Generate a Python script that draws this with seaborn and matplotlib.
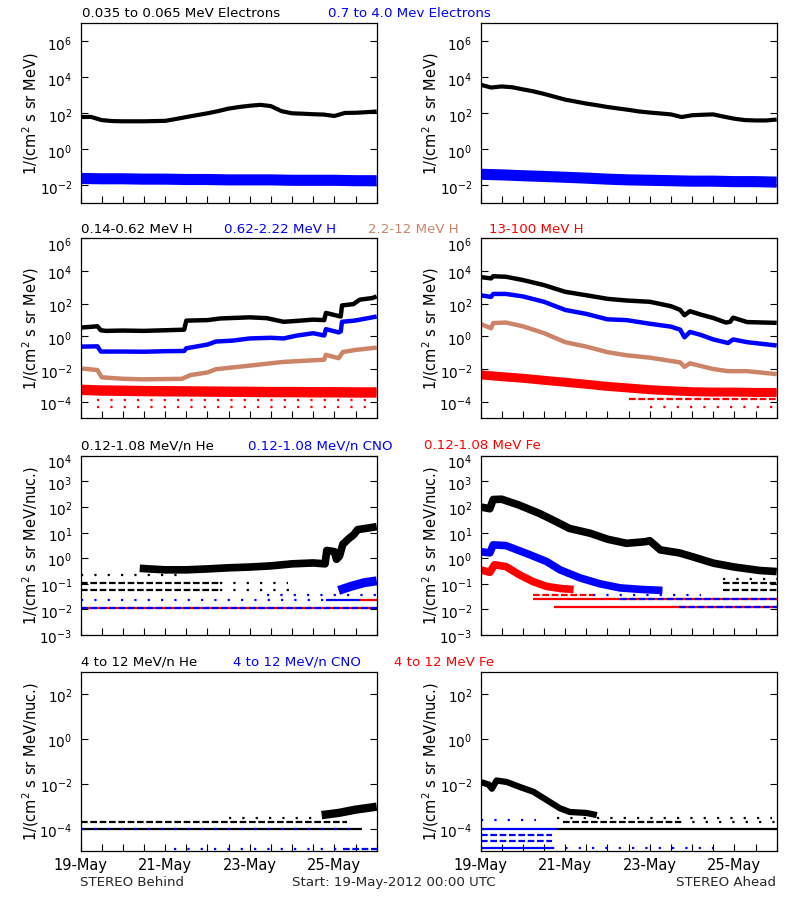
import numpy as np
import pandas as pd
import matplotlib
matplotlib.use("Agg")
import matplotlib.pyplot as plt
import matplotlib.transforms as mtransforms
import seaborn as sns
from matplotlib.ticker import NullLocator

# ---------------- data (time in days since 19-May-2012 00:00 UTC) ----------------
DAY_TICK_POS = [0, 2, 4, 6]
DAY_LABELS = ["19-May", "21-May", "23-May", "25-May"]
T6H = np.arange(0, 7.001, 0.25)
T12H = np.arange(0, 7.001, 0.5)

# Row 1: electrons
ELO_B = [62, 63, 42, 37, 36, 36, 36, 37, 38, 48, 62, 79, 100, 132, 182, 224, 263, 295,
         251, 132, 100, 95, 89, 85, 71, 105, 107, 115, 126]
EHI_B = [0.024, 0.023, 0.023, 0.022, 0.022, 0.021, 0.021, 0.020, 0.020, 0.020, 0.019,
         0.019, 0.019, 0.018, 0.018]
ELO_A = [3890, 2700, 3100, 2800, 2140, 1660, 1200, 830, 575, 447, 347, 282, 224, 186, 155,
         126, 110, 98, 87, 62, 78, 83, 87, 65, 50, 42, 40, 40, 45]
EHI_A = [0.041, 0.038, 0.034, 0.031, 0.028, 0.025, 0.022, 0.020, 0.019, 0.018, 0.017,
         0.017, 0.016, 0.016, 0.015]

# Row 2: protons, STEREO Behind
H1_B_T = [0, 0.3, 0.4, 0.48, 0.6, 1.0, 1.5, 2.0, 2.45, 2.5, 3.0, 3.3, 4.0, 4.4, 4.8, 5.2,
          5.5, 5.76, 5.8, 6.1, 6.15, 6.18, 6.45, 6.6, 6.9, 7.0]
H1_B = [3.5, 4.0, 4.2, 2.4, 2.2, 2.3, 2.2, 2.4, 2.6, 9.3, 10, 12.6, 14.8, 13.2, 7.9, 9.3,
        10.7, 10, 27.5, 17.8, 16.6, 79, 95, 178, 224, 282]
H2_B_T = [0, 0.4, 0.48, 1.0, 1.5, 2.0, 2.45, 2.5, 3.0, 3.2, 3.6, 4.0, 4.5, 4.8, 5.1, 5.5,
          5.76, 5.8, 6.1, 6.15, 6.18, 6.5, 7.0]
H2_B = [0.24, 0.25, 0.12, 0.12, 0.117, 0.126, 0.13, 0.19, 0.32, 0.49, 0.56, 0.76, 0.83,
        0.76, 1.12, 1.58, 1.15, 2.8, 1.78, 2.0, 7.9, 9.5, 16.6]
H3_B_T = [0, 0.4, 0.5, 1.0, 1.5, 2.0, 2.4, 2.6, 3.0, 3.2, 4.0, 4.8, 5.5, 5.76, 5.8, 6.1,
          6.2, 6.5, 7.0]
H3_B = [0.0112, 0.0089, 0.0032, 0.0026, 0.0024, 0.0025, 0.0026, 0.0044, 0.0063, 0.010,
        0.0166, 0.028, 0.035, 0.038, 0.076, 0.047, 0.112, 0.151, 0.209]
H4_B = [5.5e-4, 5e-4, 4.8e-4, 4.6e-4, 4.5e-4, 4.4e-4, 4.3e-4, 4.2e-4, 4.1e-4, 4e-4,
        4e-4, 3.9e-4, 3.9e-4, 3.8e-4, 3.8e-4]

# Row 2: protons, STEREO Ahead
H1_A_T = [0, 0.25, 0.3, 0.6, 1.0, 1.5, 2.0, 2.5, 3.0, 3.45, 4.0, 4.5, 4.72, 4.82, 4.95,
          5.2, 5.5, 5.8, 5.9, 5.97, 6.3, 7.0]
H1_A = [4270, 3550, 4790, 4470, 2820, 1380, 537, 331, 200, 158, 132, 71, 42, 20, 35, 22,
        13.5, 7.1, 7.9, 14.1, 7.6, 6.8]
H2_A_T = [0, 0.25, 0.3, 0.6, 1.0, 1.5, 2.0, 2.5, 3.0, 3.45, 4.0, 4.5, 4.72, 4.82, 4.95,
          5.2, 5.5, 5.85, 5.97, 6.3, 7.0]
H2_A = [331, 263, 398, 398, 282, 132, 42, 24, 11.2, 10, 6.0, 4.0, 2.6, 0.89, 1.9, 1.26,
        0.66, 0.40, 0.66, 0.45, 0.28]
H3_A_T = [0, 0.25, 0.3, 0.6, 1.0, 1.5, 2.0, 2.5, 3.0, 3.45, 4.0, 4.5, 4.72, 4.82, 4.95,
          5.5, 5.85, 6.3, 7.0]
H3_A = [5.8, 3.2, 6.6, 7.1, 4.2, 1.6, 0.45, 0.24, 0.11, 0.071, 0.051, 0.032, 0.026,
        0.014, 0.023, 0.0102, 0.0076, 0.0076, 0.005]
H4_A = [4.5e-3, 3.5e-3, 2.8e-3, 2.1e-3, 1.6e-3, 1.2e-3, 8.9e-4, 7.1e-4, 5.6e-4, 4.8e-4,
        4.2e-4, 4e-4, 4e-4, 3.8e-4, 3.8e-4]

# Row 3: 0.12-1.08 MeV/n ions
HE_B_T = [1.4, 2.0, 2.5, 3.0, 3.5, 4.0, 4.5, 5.0, 5.5, 5.78, 5.82, 6.0, 6.05, 6.12, 6.2,
          6.35, 6.45, 6.55, 6.8, 7.0]
HE_B = [0.4, 0.35, 0.35, 0.38, 0.42, 0.45, 0.5, 0.6, 0.65, 0.6, 2.0, 1.8, 0.9, 1.2, 3.5,
        6, 8, 13, 15, 17]
CNO_B_T = [6.1, 6.4, 6.7, 7.0]
CNO_B = [0.055, 0.08, 0.11, 0.13]
HE_A_T = [0, 0.22, 0.3, 0.5, 0.9, 1.4, 1.8, 2.1, 2.6, 3.0, 3.45, 3.9, 4.0, 4.25, 4.7,
          5.0, 5.5, 6.0, 6.6, 7.0]
HE_A = [100, 85, 195, 200, 120, 55, 26, 14.5, 9.3, 5.5, 3.8, 4.4, 4.8, 2.1, 1.6, 1.15,
        0.64, 0.45, 0.33, 0.3]
CNO_A_T = [0, 0.22, 0.3, 0.6, 1.17, 1.56, 1.88, 2.35, 2.82, 3.3, 3.8, 4.3]
CNO_A = [1.8, 1.6, 3.3, 3.1, 1.35, 0.74, 0.35, 0.17, 0.10, 0.069, 0.06, 0.055]
FE_A_T = [0, 0.22, 0.33, 0.6, 0.93, 1.25, 1.56, 1.9, 2.2]
FE_A = [0.35, 0.28, 0.55, 0.47, 0.22, 0.12, 0.079, 0.065, 0.06]

# Row 4: 4-12 MeV/n ions
HE4_B_T = [5.7, 6.1, 6.5, 7.0]
HE4_B = [4e-4, 5e-4, 7e-4, 9.5e-4]
HE4_A_T = [0, 0.19, 0.27, 0.38, 0.62, 0.93, 1.25, 1.56, 1.88, 2.11, 2.5, 2.75]
HE4_A = [0.012, 0.0093, 0.006, 0.014, 0.012, 0.0072, 0.0044, 0.0019, 8e-4, 5.5e-4,
         5e-4, 4e-4]

# single-count levels: (flux, start day, end day, colour key, pattern key)
LEV_R2_B = [(1.4e-4, 0.4, 7, "r", "sparse"), (5e-5, 0.4, 7, "r", "sparse")]
LEV_R2_A = [(1.5e-4, 3.5, 7, "r", "dash"), (5e-5, 4.0, 7, "r", "sparse")]
LEV_R3_B = [(0.011, 0, 7, "r", "solid"), (0.011, 0, 7, "b", "dash"),
            (0.024, 0, 5.8, "b", "sparse"), (0.024, 5.8, 6.6, "b", "solid"),
            (0.024, 6.6, 7, "r", "solid"), (0.038, 4.4, 7, "b", "sparse"),
            (0.056, 0, 3.3, "k", "dash"), (0.056, 3.3, 5.0, "k", "sparse"),
            (0.11, 0, 3.3, "k", "dash"), (0.11, 3.3, 4.9, "k", "sparse"),
            (0.22, 0, 2.3, "k", "sparse")]
LEV_R3_A = [(0.012, 1.73, 7, "r", "solid"), (0.012, 4.7, 7, "b", "dash"),
            (0.026, 1.25, 7, "r", "solid"), (0.026, 3.3, 7, "b", "dash"),
            (0.038, 1.25, 2.65, "r", "dash"), (0.038, 2.65, 5.2, "b", "sparse"),
            (0.056, 5.74, 7, "k", "dash"), (0.107, 5.74, 7, "k", "dash"),
            (0.16, 5.74, 7, "k", "sparse")]
LEV_R4_B = [(1e-4, 0, 6.66, "k", "solid"), (1e-4, 0, 6.66, "b", "sparse"),
            (1.9e-4, 0, 6.3, "k", "dash"), (3e-4, 3.5, 6.0, "k", "sparse"),
            (1.2e-5, 2.2, 6.2, "b", "sparse"), (1.2e-5, 6.2, 7, "b", "dash")]
LEV_R4_A = [(1e-4, 0, 1.8, "b", "solid"), (1e-4, 1.8, 7, "k", "solid"),
            (1.95e-4, 1.96, 4.7, "k", "dash"), (1.95e-4, 4.7, 7, "k", "sparse"),
            (3e-4, 1.8, 6.9, "k", "sparse"), (2.5e-4, 0, 1.3, "b", "sparse"),
            (5e-5, 0, 1.7, "b", "dash"), (2.7e-5, 0, 1.7, "b", "dash"),
            (1.4e-5, 0, 1.7, "b", "solid"), (1.4e-5, 1.7, 5.5, "b", "sparse")]

TITLES = [
    [("0.035 to 0.065 MeV Electrons", 82, "k"), ("0.7 to 4.0 Mev Electrons", 328, "b")],
    [("0.14-0.62 MeV H", 81, "k"), ("0.62-2.22 MeV H", 224, "b"),
     ("2.2-12 MeV H", 368, "br"), ("13-100 MeV H", 489, "r")],
    [("0.12-1.08 MeV/n He", 81, "k"), ("0.12-1.08 MeV/n CNO", 248, "b"),
     ("0.12-1.08 MeV Fe", 424, "r")],
    [("4 to 12 MeV/n He", 81, "k"), ("4 to 12 MeV/n CNO", 233, "b"),
     ("4 to 12 MeV Fe", 394, "r")],
]

# ---------------- styling ----------------
sns.set_theme(style="white")
plt.rcParams["font.family"] = ["DejaVu Sans"]
plt.rcParams["mathtext.fontset"] = "dejavusans"

COL = {"k": "#000000", "b": "#0000ff", "r": "#ff0000", "br": "#cc8468"}
PAT = {"solid": "-", "dash": (0, (3, 1.2)), "sparse": (0, (1, 5))}

W, H = 800, 900
fig = plt.figure(figsize=(8, 9), dpi=100)

ROW_TOP = [23.3, 238.3, 455.7, 671.7]
ROW_BOT = [203.3, 418.3, 635.0, 851.0]
COL_LEFT = [80.5, 480.5]
PANEL_W = 296.2

YLIM = [(1e-3, 1e7), (1e-5, 1e6), (1e-3, 1e4), (1e-5, 1e3)]
YTICK_EXP = [[-2, 0, 2, 4, 6], [-4, -2, 0, 2, 4, 6], [-3, -2, -1, 0, 1, 2, 3, 4],
             [-4, -2, 0, 2]]
YLAB = ["1/(cm$^2$ s sr MeV)", "1/(cm$^2$ s sr MeV)",
        "1/(cm$^2$ s sr MeV/nuc.)", "1/(cm$^2$ s sr MeV/nuc.)"]


def curve(ax, t, v, color, lw):
    df = pd.DataFrame({"t": t, "v": v})
    sns.lineplot(data=df, x="t", y="v", ax=ax, color=COL[color], linewidth=lw,
                 estimator=None, sort=False, solid_capstyle="butt")


def levels(ax, lev):
    for val, t0, t1, c, p in lev:
        ax.hlines(val, t0, t1, colors=COL[c], linewidth=1.6, linestyles=PAT[p])


axes = {}
for r in range(4):
    for c in range(2):
        l = COL_LEFT[c] / W
        b = 1 - ROW_BOT[r] / H
        h = (ROW_BOT[r] - ROW_TOP[r]) / H
        ax = fig.add_axes([l, b, PANEL_W / W, h])
        ax.set_yscale("log")
        axes[(r, c)] = ax

# Row 1
curve(axes[(0, 0)], T6H, ELO_B, "k", 3.0)
curve(axes[(0, 0)], T12H, EHI_B, "b", 8.0)
curve(axes[(0, 1)], T6H, ELO_A, "k", 3.0)
curve(axes[(0, 1)], T12H, EHI_A, "b", 8.0)

# Row 2
a = axes[(1, 0)]
levels(a, LEV_R2_B)
curve(a, T12H, H4_B, "r", 7.5)
curve(a, H3_B_T, H3_B, "br", 3.2)
curve(a, H2_B_T, H2_B, "b", 3.2)
curve(a, H1_B_T, H1_B, "k", 3.2)
a = axes[(1, 1)]
levels(a, LEV_R2_A)
curve(a, T12H, H4_A, "r", 6.5)
curve(a, H3_A_T, H3_A, "br", 3.2)
curve(a, H2_A_T, H2_A, "b", 3.2)
curve(a, H1_A_T, H1_A, "k", 3.2)

# Row 3
a = axes[(2, 0)]
levels(a, LEV_R3_B)
curve(a, CNO_B_T, CNO_B, "b", 6.5)
curve(a, HE_B_T, HE_B, "k", 5.5)
a = axes[(2, 1)]
levels(a, LEV_R3_A)
curve(a, FE_A_T, FE_A, "r", 5.5)
curve(a, CNO_A_T, CNO_A, "b", 5.5)
curve(a, HE_A_T, HE_A, "k", 5.5)

# Row 4
a = axes[(3, 0)]
levels(a, LEV_R4_B)
curve(a, HE4_B_T, HE4_B, "k", 6.0)
a = axes[(3, 1)]
levels(a, LEV_R4_A)
curve(a, HE4_A_T, HE4_A, "k", 4.5)

half_days = np.arange(0, 7.001, 0.5)
down = mtransforms.ScaledTranslation(0, -1.5 / 100, fig.dpi_scale_trans)
down_top = mtransforms.ScaledTranslation(0, -5.5 / 100, fig.dpi_scale_trans)
for (r, c), ax in axes.items():
    ax.set_xlim(0, 7)
    ax.set_ylim(*YLIM[r])
    ticks = [10.0 ** e for e in YTICK_EXP[r]]
    ax.set_yticks(ticks)
    ax.set_yticklabels([f"$10^{{{e}}}$" for e in YTICK_EXP[r]], fontsize=9.8)
    ax.yaxis.set_minor_locator(NullLocator())
    ax.set_xticks(half_days)
    if r == 3:
        labs = ["" for _ in half_days]
        for p, s in zip(DAY_TICK_POS, DAY_LABELS):
            labs[int(round(p * 2))] = s
        ax.set_xticklabels(labs, fontsize=10.5)
    else:
        ax.set_xticklabels([])
    ax.set_xlabel("")
    ax.set_ylabel(YLAB[r], fontsize=10.5, color="black")
    ax.yaxis.set_label_coords(-0.135, 0.5)
    ax.tick_params(axis="y", which="both", direction="in", length=5, width=0.8,
                   left=True, right=True, colors="black", labelcolor="black", pad=6)
    ax.tick_params(axis="x", which="both", direction="in", length=5, width=0.8,
                   bottom=True, top=False, colors="black", labelcolor="black", pad=5)
    # shift tick labels after tick_params (which resets label transforms)
    for tick in ax.yaxis.get_major_ticks():
        tv = tick.get_loc()
        off = down_top if np.isclose(tv, YLIM[r][1]) else down
        tick.label1.set_transform(tick.label1.get_transform() + off)
    for sp in ax.spines.values():
        sp.set_color("black")
        sp.set_linewidth(0.9)
    ax.set_facecolor("white")

# titles
TITLE_BASE = [17.3, 233.3, 449.0, 665.7]
for r, items in enumerate(TITLES):
    for txt, x, c in items:
        fig.text(x / W, 1 - TITLE_BASE[r] / H, txt, color=COL[c], fontsize=9.6,
                 ha="left", va="baseline")

fig.text(80 / W, 1 - 886 / H, "STEREO Behind", fontsize=9.6, ha="left", va="baseline")
fig.text(292 / W, 1 - 886 / H, "Start: 19-May-2012 00:00 UTC", fontsize=9.6,
         ha="left", va="baseline")
fig.text(776 / W, 1 - 886 / H, "STEREO Ahead", fontsize=9.6, ha="right", va="baseline")

fig.savefig("out.png", dpi=100, facecolor="white")
